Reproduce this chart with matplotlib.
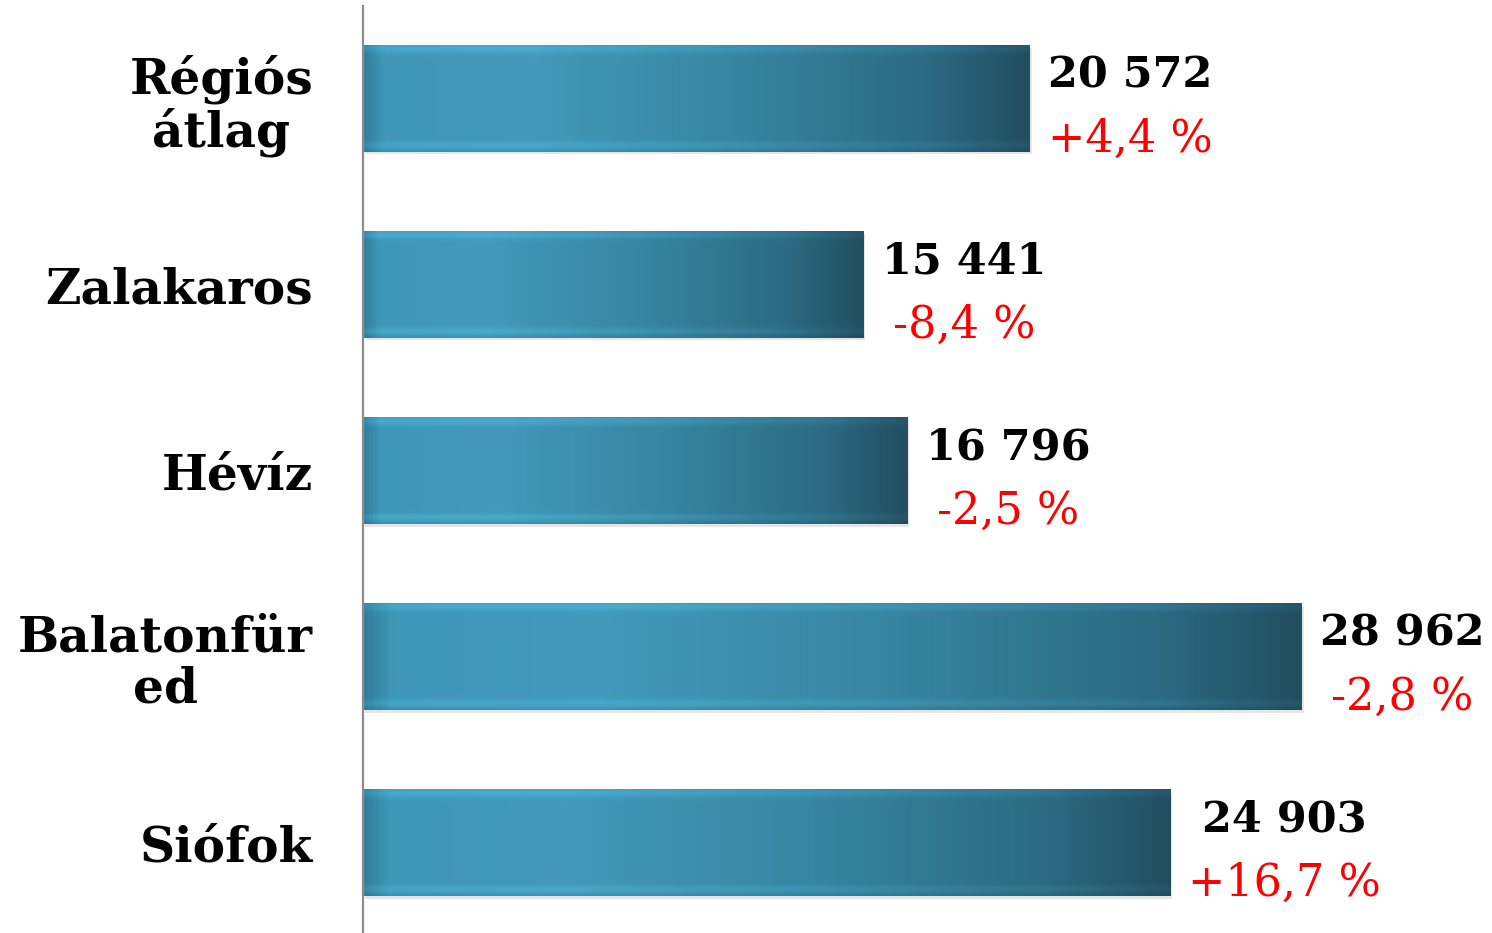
import numpy as np
import matplotlib.pyplot as plt
from matplotlib.colors import LinearSegmentedColormap
from matplotlib.patches import Rectangle

# data
categories = ["Régiós\nátlag", "Zalakaros", "Hévíz", "Balatonfür\ned", "Siófok"]
values = [20572, 15441, 16796, 28962, 24903]
value_labels = ["20 572", "15 441", "16 796", "28 962", "24 903"]
change_labels = ["+4,4 %", "-8,4 %", "-2,5 %", "-2,8 %", "+16,7 %"]

plt.rcParams['font.family'] = ['DejaVu Serif']

DPI = 100
fig = plt.figure(figsize=(14.92, 9.33), dpi=DPI)
ax = fig.add_axes([363 / 1492, -0.003, 1 - 363 / 1492, 0.997])

ypos = np.arange(len(categories))
bar_h = 0.57
bars = ax.barh(ypos, values, height=bar_h, color='none', edgecolor='none', zorder=2)

# horizontal gradient: slightly dark left edge, light, then darker towards right
hcmap = LinearSegmentedColormap.from_list('bar', [
    (0.0, '#327f9b'), (0.03, '#3f97b7'), (0.25, '#4299b9'),
    (0.55, '#3786a2'), (0.85, '#2b6a82'), (1.0, '#224e60')])
nx, ny = 400, 100
gx = hcmap(np.linspace(0, 1, nx))[:, :3]
# vertical bevel: soft highlight near top and bottom edges
vy = np.linspace(0, 1, ny)
shade = np.ones(ny)
shade += 0.12 * np.exp(-((vy - 0.03) / 0.04) ** 2)
shade += 0.10 * np.exp(-((vy - 0.94) / 0.035) ** 2)
shade -= 0.04 * np.exp(-((vy - 1.0) / 0.02) ** 2)
img = np.clip(gx[None, :, :] * shade[:, None, None], 0, 1)

for b in bars:
    x0, y0 = b.get_x(), b.get_y()
    w, h = b.get_width(), b.get_height()
    # soft shadow
    ax.add_patch(Rectangle((x0 + 50, y0 + 0.015), w, h, facecolor='#000000',
                           alpha=0.10, edgecolor='none', zorder=1))
    ax.imshow(img, extent=(x0, x0 + w, y0 + h, y0), aspect='auto',
              interpolation='bilinear', zorder=2)

ax.set_xlim(0, 34825)
ax.set_ylim(len(categories) - 0.5, -0.5)
ax.set_yticks(ypos)
ax.set_yticklabels(categories, fontsize=35, fontweight='bold',
                   multialignment='center', linespacing=1.1)
ax.tick_params(axis='y', length=0, pad=36)
ax.set_xticks([])
for s in ['top', 'right', 'bottom']:
    ax.spines[s].set_visible(False)
ax.spines['left'].set_color('#8c8c8c')
ax.spines['left'].set_linewidth(1.6)
ax.spines['left'].set_zorder(5)

# value + change labels, block starts 18 px right of bar end, lines centred
renderer = fig.canvas.get_renderer()
for b, vl, cl in zip(bars, value_labels, change_labels):
    yc = b.get_y() + b.get_height() / 2
    t1 = ax.annotate(vl, xy=(b.get_width(), yc), xytext=(0, 8),
                     textcoords='offset points', ha='center', va='baseline',
                     fontsize=31, fontweight='bold', color='black')
    t2 = ax.annotate(cl, xy=(b.get_width(), yc), xytext=(0, -38),
                     textcoords='offset points', ha='center', va='baseline',
                     fontsize=32, color='#ff0000')
    wmax = max(t1.get_window_extent(renderer).width,
               t2.get_window_extent(renderer).width)
    dx = (18 + wmax / 2) * 72 / DPI
    t1.set_position((dx, 8))
    t2.set_position((dx, -38))

fig.savefig('out.png', dpi=DPI)
